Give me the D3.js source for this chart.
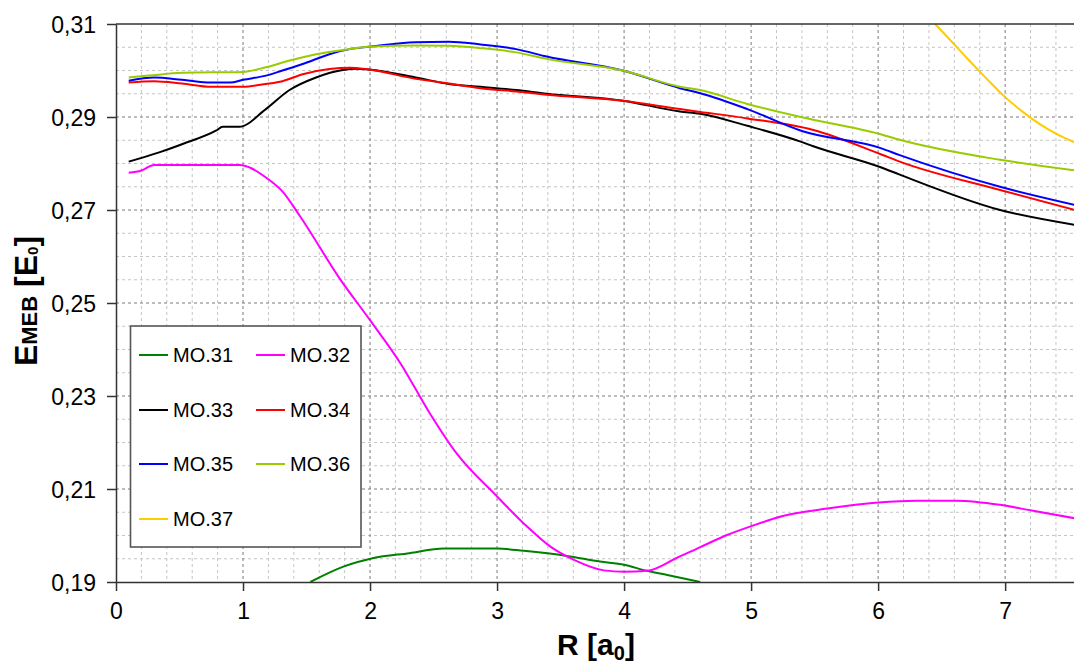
<!DOCTYPE html>
<html>
<head>
<meta charset="utf-8">
<script src="https://cdn.jsdelivr.net/npm/d3@7"></script>
<style>
  html, body { margin: 0; padding: 0; background: #fff; }
  svg { display: block; font-family: Arial, "Liberation Sans", sans-serif; }
</style>
</head>
<body>
<svg id="chart" width="1074" height="666"></svg>
<script>
// Molecular orbital energies E_MEB versus internuclear distance R
const mo31R = [1.53, 1.79, 2.02, 2.31, 2.58, 3.0, 3.21, 3.55, 3.81, 4.0, 4.18, 4.34, 4.6];
const mo31E = [0.1900, 0.1933, 0.1951, 0.1962, 0.1972, 0.1972, 0.1967, 0.1956, 0.1944, 0.1937, 0.1924, 0.1915, 0.1900];

const mo32R = [0.1, 0.2, 0.3, 0.97, 1.18, 1.31, 1.45, 1.76, 2.0, 2.24, 2.47, 2.68, 3.0, 3.21, 3.42, 3.61, 3.84, 4.0, 4.18, 4.41, 4.6, 4.81, 5.0, 5.25, 5.6, 6.0, 6.3, 6.62, 6.96, 7.22, 7.55];
const mo32E = [0.2780, 0.2785, 0.2797, 0.2797, 0.2770, 0.2740, 0.2686, 0.2553, 0.2463, 0.2370, 0.2263, 0.2177, 0.2084, 0.2026, 0.1976, 0.1947, 0.1925, 0.1922, 0.1924, 0.1951, 0.1975, 0.2001, 0.2020, 0.2042, 0.2058, 0.2071, 0.2075, 0.2075, 0.2066, 0.2053, 0.2037];

const mo33R = [0.1, 0.34, 0.525, 0.79, 0.84, 0.97, 1.18, 1.36, 1.575, 1.785, 1.89, 1.99, 2.36, 2.62, 2.87, 3.15, 3.39, 3.99, 4.44, 4.6, 4.97, 5.39, 5.49, 6.02, 6.17, 6.96, 7.55];
const mo33E = [0.2804, 0.2824, 0.2842, 0.2871, 0.2879, 0.2879, 0.2917, 0.2957, 0.2985, 0.3001, 0.3004, 0.3002, 0.2985, 0.2971, 0.2965, 0.2958, 0.2950, 0.2935, 0.2912, 0.2907, 0.2881, 0.2847, 0.2837, 0.2792, 0.2776, 0.2700, 0.2668];

const mo34R = [0.1, 0.3, 0.52, 0.75, 1.0, 1.18, 1.31, 1.47, 1.68, 1.84, 1.99, 2.36, 2.62, 2.87, 3.15, 3.39, 3.99, 4.44, 4.6, 4.97, 5.49, 6.02, 6.17, 6.96, 7.55];
const mo34E = [0.2974, 0.2977, 0.2972, 0.2965, 0.2965, 0.2971, 0.2977, 0.2992, 0.3003, 0.3006, 0.3002, 0.2982, 0.2972, 0.2962, 0.2955, 0.2948, 0.2935, 0.2917, 0.2911, 0.2897, 0.2872, 0.2820, 0.2804, 0.2743, 0.2700];

const mo35R = [0.1, 0.3, 0.52, 0.75, 0.9, 1.0, 1.18, 1.31, 1.47, 1.68, 1.84, 1.99, 2.36, 2.62, 2.87, 3.15, 3.39, 3.99, 4.44, 4.6, 4.97, 5.4, 6.02, 6.17, 6.96, 7.55];
const mo35E = [0.2978, 0.2985, 0.2980, 0.2974, 0.2974, 0.2980, 0.2989, 0.3000, 0.3014, 0.3035, 0.3046, 0.3051, 0.3061, 0.3062, 0.3056, 0.3046, 0.3030, 0.3000, 0.2962, 0.2951, 0.2917, 0.2870, 0.2833, 0.2818, 0.2750, 0.2711];

const mo36R = [0.1, 0.26, 0.525, 1.0, 1.18, 1.36, 1.575, 1.785, 1.99, 2.36, 2.62, 2.87, 3.15, 3.39, 3.99, 4.44, 4.6, 4.97, 5.39, 6.02, 6.17, 6.96, 7.55];
const mo36E = [0.2985, 0.2989, 0.2995, 0.2997, 0.3007, 0.3021, 0.3035, 0.3044, 0.3051, 0.3054, 0.3053, 0.3048, 0.3039, 0.3025, 0.3000, 0.2965, 0.2958, 0.2928, 0.2900, 0.2863, 0.2851, 0.2808, 0.2785];

const mo37R = [6.449, 6.593, 6.698, 6.856, 6.987, 7.144, 7.276, 7.407, 7.55];
const mo37E = [0.3100, 0.3058, 0.3027, 0.2982, 0.2946, 0.2910, 0.2884, 0.2863, 0.2845];

const seriesNames = ["MO.31", "MO.32", "MO.33", "MO.34", "MO.35", "MO.36", "MO.37"];
const seriesColors = ["#008000", "#ff00ff", "#000000", "#ff0000", "#0000ff", "#99cc00", "#ffcc00"];
const seriesR = [mo31R, mo32R, mo33R, mo34R, mo35R, mo36R, mo37R];
const seriesE = [mo31E, mo32E, mo33E, mo34E, mo35E, mo36E, mo37E];

const xMajorTicks = [0, 1, 2, 3, 4, 5, 6, 7];
const yMajorTicks = [0.19, 0.21, 0.23, 0.25, 0.27, 0.29, 0.31];

// plot frame
const svg = d3.select("#chart");
const plotLeft = 116, plotRight = 1075, plotTop = 24, plotBottom = 582;

const x = d3.scaleLinear().domain([0, 7.55]).range([plotLeft, plotRight]);
const y = d3.scaleLinear().domain([0.19, 0.31]).range([plotBottom, plotTop]);

const comma = d3.formatLocale({ decimal: ",", thousands: ".", grouping: [3], currency: ["", ""] });

// grid: minor lines first (light), then major lines (darker)
const grid = svg.append("g");
const xMinor = d3.range(1, 38).map(i => i * 0.2).filter(v => Math.abs(v - Math.round(v)) > 1e-6);
const yMinor = d3.range(0, 25).map(i => 0.19 + i * 0.005).filter(v => !yMajorTicks.some(t => Math.abs(t - v) < 1e-6));

grid.selectAll(".xmin").data(xMinor).join("line")
  .attr("x1", d => x(d)).attr("x2", d => x(d))
  .attr("y1", plotTop).attr("y2", plotBottom)
  .attr("stroke", "#c4c4c4").attr("stroke-width", 1).attr("stroke-dasharray", "3,3");
grid.selectAll(".ymin").data(yMinor).join("line")
  .attr("x1", plotLeft).attr("x2", plotRight)
  .attr("y1", d => y(d)).attr("y2", d => y(d))
  .attr("stroke", "#c4c4c4").attr("stroke-width", 1).attr("stroke-dasharray", "3,3");
grid.selectAll(".xmaj").data(xMajorTicks.slice(1)).join("line")
  .attr("x1", d => x(d)).attr("x2", d => x(d))
  .attr("y1", plotTop).attr("y2", plotBottom)
  .attr("stroke", "#7a7a7a").attr("stroke-width", 1).attr("stroke-dasharray", "3,3");
grid.selectAll(".ymaj").data(yMajorTicks.slice(1, -1)).join("line")
  .attr("x1", plotLeft).attr("x2", plotRight)
  .attr("y1", d => y(d)).attr("y2", d => y(d))
  .attr("stroke", "#7a7a7a").attr("stroke-width", 1).attr("stroke-dasharray", "3,3");

// curves, clipped to the plot frame
svg.append("clipPath").attr("id", "plotClip")
  .append("rect").attr("x", plotLeft).attr("y", plotTop)
  .attr("width", plotRight - plotLeft).attr("height", plotBottom - plotTop);

const line = d3.line().curve(d3.curveMonotoneX).x(d => x(d[0])).y(d => y(d[1]));
const curves = svg.append("g").attr("clip-path", "url(#plotClip)");
seriesNames.forEach((name, i) => {
  const pts = seriesR[i].map((r, k) => [r, seriesE[i][k]]);
  curves.append("path")
    .datum(pts)
    .attr("d", line)
    .attr("fill", "none")
    .attr("stroke", seriesColors[i])
    .attr("stroke-width", 2)
    .attr("stroke-linejoin", "round");
});

// axes
const yAxis = d3.axisLeft(y).tickValues(yMajorTicks).tickSize(9).tickSizeOuter(0)
  .tickFormat(d => comma.format(".2f")(d));
const gy = svg.append("g").attr("transform", `translate(${plotLeft},0)`).call(yAxis);
gy.select(".domain").attr("stroke", "#333").attr("stroke-width", 1.5);
gy.selectAll(".tick line").attr("stroke", "#333").attr("stroke-width", 1.5);
gy.selectAll(".tick text").attr("x", -20).attr("dy", "0.36em")
  .attr("font-size", 23).attr("fill", "#000").attr("font-family", "Arial, 'Liberation Sans', sans-serif");

const xAxis = d3.axisBottom(x).tickValues(xMajorTicks).tickSize(9).tickSizeOuter(0).tickFormat(d3.format("d"));
const gx = svg.append("g").attr("transform", `translate(0,${plotBottom})`).call(xAxis);
gx.select(".domain").attr("stroke", "#333").attr("stroke-width", 1.5);
gx.selectAll(".tick line").attr("stroke", "#333").attr("stroke-width", 1.5);
gx.selectAll(".tick text").attr("y", 29).attr("dy", "0.36em")
  .attr("font-size", 23).attr("fill", "#000").attr("font-family", "Arial, 'Liberation Sans', sans-serif");

// top frame line
svg.append("line").attr("x1", plotLeft).attr("x2", plotRight).attr("y1", plotTop).attr("y2", plotTop)
  .attr("stroke", "#333").attr("stroke-width", 1.5);

// axis titles
const xt = svg.append("text").attr("x", 596).attr("y", 655)
  .attr("text-anchor", "middle").attr("font-weight", "bold").attr("font-size", 30).attr("fill", "#000");
xt.append("tspan").text("R [a");
xt.append("tspan").attr("font-size", 20).attr("dy", 5).text("0");
xt.append("tspan").attr("dy", -5).text("]");

const yt = svg.append("text").attr("transform", "translate(37,301) rotate(-90)")
  .attr("text-anchor", "middle").attr("font-weight", "bold").attr("font-size", 32).attr("fill", "#000");
yt.append("tspan").text("E");
yt.append("tspan").attr("font-size", 22).text("MEB");
yt.append("tspan").text(" [E");
yt.append("tspan").attr("font-size", 15).attr("dy", 1).text("0");
yt.append("tspan").attr("dy", -1).text("]");

// legend
const legend = svg.append("g");
legend.append("rect").attr("x", 130.5).attr("y", 326).attr("width", 230.5).attr("height", 221)
  .attr("fill", "#fff").attr("stroke", "#555").attr("stroke-width", 1.6);
const legendCols = [139, 256];
const legendRows = [355, 410, 464, 519];
seriesNames.forEach((name, i) => {
  const cx = legendCols[i % 2], cy = legendRows[Math.floor(i / 2)];
  legend.append("line").attr("x1", cx).attr("x2", cx + 29).attr("y1", cy).attr("y2", cy)
    .attr("stroke", seriesColors[i]).attr("stroke-width", 2);
  legend.append("text").attr("x", cx + 34).attr("y", cy).attr("dy", "0.36em")
    .attr("font-size", 20).attr("fill", "#000").text(name);
});
</script>
</body>
</html>
